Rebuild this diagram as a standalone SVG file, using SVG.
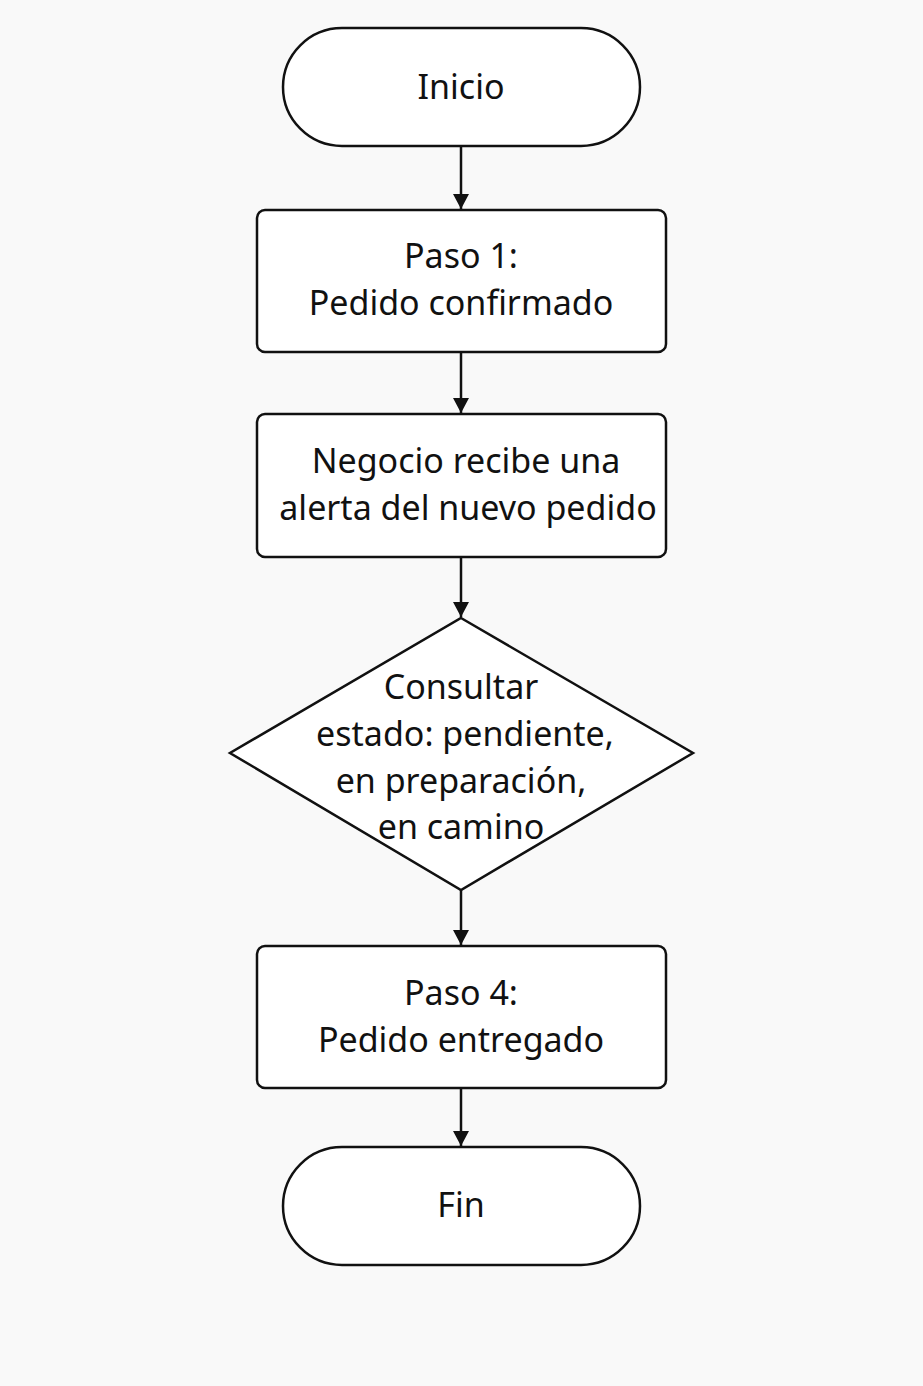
<svg xmlns="http://www.w3.org/2000/svg" width="923" height="1386" viewBox="0 0 923 1386">
<defs>
<style>
.shape{fill:#ffffff;stroke:#111111;stroke-width:2.5}
.lbl{font-family:"Noto Sans","Open Sans","DejaVu Sans",sans-serif;font-size:34px;fill:#111111;text-anchor:middle}
.conn{stroke:#111111;stroke-width:2.5;fill:none;marker-end:url(#arr)}
</style>
<marker id="arr" viewBox="0 0 15 16" refX="15" refY="8" markerWidth="15" markerHeight="16" markerUnits="userSpaceOnUse" orient="auto">
<path d="M0,0 L15,8 L0,16 Z" fill="#111111"/>
</marker>
</defs>
<rect x="0" y="0" width="923" height="1386" fill="#f9f9f9"/>
<g id="connectors">
<line class="conn" x1="461" y1="147" x2="461" y2="209"/>
<line class="conn" x1="461" y1="353" x2="461" y2="413"/>
<line class="conn" x1="461" y1="558" x2="461" y2="617"/>
<line class="conn" x1="461" y1="890" x2="461" y2="945"/>
<line class="conn" x1="461" y1="1089" x2="461" y2="1146"/>
</g>
<g id="inicio">
<rect class="shape" x="283" y="28" width="357" height="118" rx="59" ry="59"/>
<text class="lbl" x="461" y="99">Inicio</text>
</g>
<g id="paso1">
<rect class="shape" x="257" y="210" width="409" height="142" rx="8" ry="8"/>
<text class="lbl" x="461" y="268">Paso 1:</text>
<text class="lbl" x="461" y="315">Pedido confirmado</text>
</g>
<g id="alerta">
<rect class="shape" x="257" y="414" width="409" height="143" rx="8" ry="8"/>
<text class="lbl" x="466" y="473">Negocio recibe una</text>
<text class="lbl" x="468" y="520">alerta del nuevo pedido</text>
</g>
<g id="consultar">
<polygon class="shape" points="461,618 693,753 461,890 230,753"/>
<text class="lbl" x="461" y="699">Consultar</text>
<text class="lbl" x="465" y="746">estado: pendiente,</text>
<text class="lbl" x="461" y="793">en preparación,</text>
<text class="lbl" x="461" y="839">en camino</text>
</g>
<g id="paso4">
<rect class="shape" x="257" y="946" width="409" height="142" rx="8" ry="8"/>
<text class="lbl" x="461" y="1005">Paso 4:</text>
<text class="lbl" x="461" y="1052">Pedido entregado</text>
</g>
<g id="fin">
<rect class="shape" x="283" y="1147" width="357" height="118" rx="59" ry="59"/>
<text class="lbl" x="461" y="1217">Fin</text>
</g>
</svg>
